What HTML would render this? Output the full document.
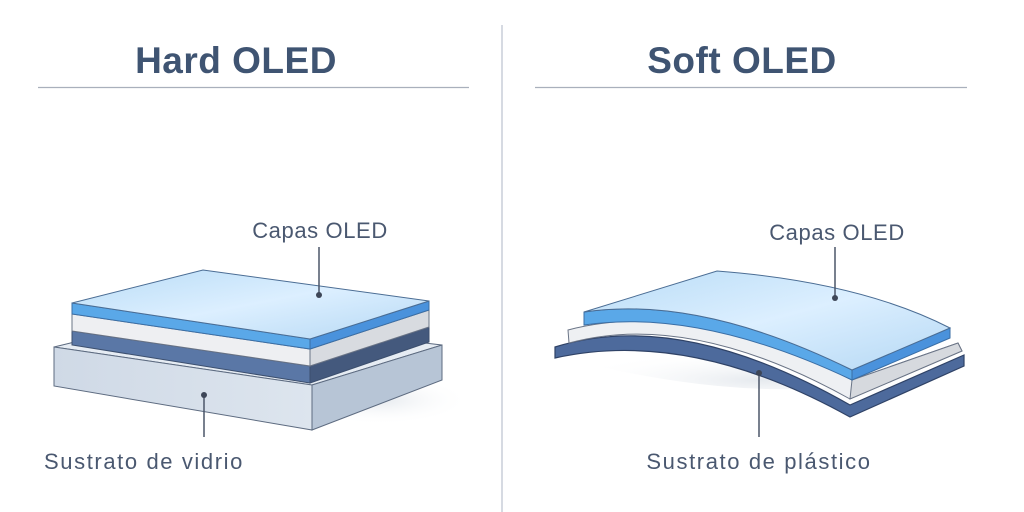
<!DOCTYPE html>
<html><head><meta charset="utf-8"><style>
html,body{margin:0;padding:0;background:#fff;}
svg{display:block}
</style></head><body>
<svg width="1024" height="512" viewBox="0 0 1024 512" xmlns="http://www.w3.org/2000/svg" font-family="Liberation Sans, sans-serif">
<defs>
<linearGradient id="top" x1="0" y1="0" x2="1" y2="1"><stop offset="0" stop-color="#b9dcf6"/><stop offset="0.5" stop-color="#dcefff"/><stop offset="1" stop-color="#b5d8f4"/></linearGradient>
<linearGradient id="sub" x1="0" y1="0" x2="1" y2="0"><stop offset="0" stop-color="#cfd9e6"/><stop offset="1" stop-color="#dde5ee"/></linearGradient>
<radialGradient id="sh" cx="0.5" cy="0.5" r="0.5"><stop offset="0" stop-color="#dfe4ea" stop-opacity="0.8"/><stop offset="1" stop-color="#fff" stop-opacity="0"/></radialGradient>
</defs>
<rect width="1024" height="512" fill="#fff"/>
<line x1="502" y1="25" x2="502" y2="512" stroke="#c9ced8" stroke-width="1.5"/>
<line x1="38" y1="87.5" x2="469" y2="87.5" stroke="#a9b0bc" stroke-width="1.2"/>
<line x1="535" y1="87.5" x2="967" y2="87.5" stroke="#a9b0bc" stroke-width="1.2"/>
<text x="236" y="73" text-anchor="middle" font-size="37" font-weight="bold" fill="#3f5472" letter-spacing="0.5">Hard OLED</text>
<text x="742" y="73" text-anchor="middle" font-size="37" font-weight="bold" fill="#3f5472" letter-spacing="0.5">Soft OLED</text>

<!-- Hard OLED -->
<ellipse cx="380" cy="400" rx="90" ry="25" fill="url(#sh)"/>
<polygon points="54,347 186,315 442,345 312,385" fill="#e6ecf3" stroke="#5d6b80" stroke-width="1"/>
<polygon points="54,347 312,385 312,430 54,386" fill="url(#sub)" stroke="#5d6b80" stroke-width="1"/>
<polygon points="312,385 442,345 442,380 312,430" fill="#b7c5d6" stroke="#5d6b80" stroke-width="1"/>
<polygon points="72,331 310,366 310,383 72,345" fill="#5a77a6" stroke="#3c4f6e" stroke-width="1"/>
<polygon points="310,366 429,327 429,342 310,383" fill="#44597d" stroke="#3c4f6e" stroke-width="1"/>
<polygon points="72,314 310,349 310,366 72,331" fill="#eeeff2" stroke="#6a7486" stroke-width="1"/>
<polygon points="310,349 429,310 429,327 310,366" fill="#d8dbe0" stroke="#6a7486" stroke-width="1"/>
<polygon points="72,303 310,339 310,349 72,314" fill="#5aa8e8" stroke="#3a6ea5" stroke-width="1"/>
<polygon points="310,339 429,301 429,310 310,349" fill="#4a92dc" stroke="#3a6ea5" stroke-width="1"/>
<polygon points="72,303 203,270 429,301 310,339" fill="url(#top)" stroke="#4b6d94" stroke-width="1"/>
<line x1="319" y1="247" x2="319" y2="295" stroke="#4a5568" stroke-width="1.5"/>
<circle cx="319" cy="295" r="3" fill="#3d4657"/>
<line x1="204" y1="395" x2="204" y2="437" stroke="#4a5568" stroke-width="1.5"/>
<circle cx="204" cy="395" r="3" fill="#3d4657"/>
<text x="320" y="238" text-anchor="middle" font-size="22" letter-spacing="0.6" fill="#4a5870">Capas OLED</text>
<text x="144" y="469" text-anchor="middle" font-size="22" letter-spacing="1.6" fill="#4a5870">Sustrato de vidrio</text>

<!-- Soft OLED -->
<path d="M560,357 Q700,330 850,410 L960,360 Q800,420 560,357Z" fill="url(#sh)"/>
<path d="M555,347 Q680,308 850,405 L964,355 L964,366 L850,417 Q690,328 555,358Z" fill="#4d6a9c" stroke="#2f4266" stroke-width="1.2"/>
<path d="M568,330 Q690,298 852,380 L958,343 L962,351 L850,399 Q690,310 569,343Z" fill="#eef0f3" stroke="#6a7486" stroke-width="1"/>
<path d="M852,380 L958,343 L962,351 L850,399Z" fill="#d6d9de" stroke="#6a7486" stroke-width="1"/>
<path d="M584,312 Q700,295 852,370 L852,380 Q700,308 584,325Z" fill="#5aa8e8" stroke="#3a6ea5" stroke-width="1"/>
<path d="M852,370 L950,328 L950,338 L852,380Z" fill="#4a92dc" stroke="#3a6ea5" stroke-width="1"/>
<path d="M584,312 L717,271 Q860,282 950,328 L852,370 Q700,295 584,312Z" fill="url(#top)" stroke="#4b6d94" stroke-width="1"/>
<line x1="835" y1="247" x2="835" y2="298" stroke="#4a5568" stroke-width="1.5"/>
<circle cx="835" cy="298" r="3" fill="#3d4657"/>
<line x1="759" y1="373" x2="759" y2="437" stroke="#4a5568" stroke-width="1.5"/>
<circle cx="759" cy="373" r="3" fill="#3d4657"/>
<text x="837" y="240" text-anchor="middle" font-size="22" letter-spacing="0.6" fill="#4a5870">Capas OLED</text>
<text x="759" y="469" text-anchor="middle" font-size="22" letter-spacing="1.6" fill="#4a5870">Sustrato de plástico</text>
</svg>
</body></html>
